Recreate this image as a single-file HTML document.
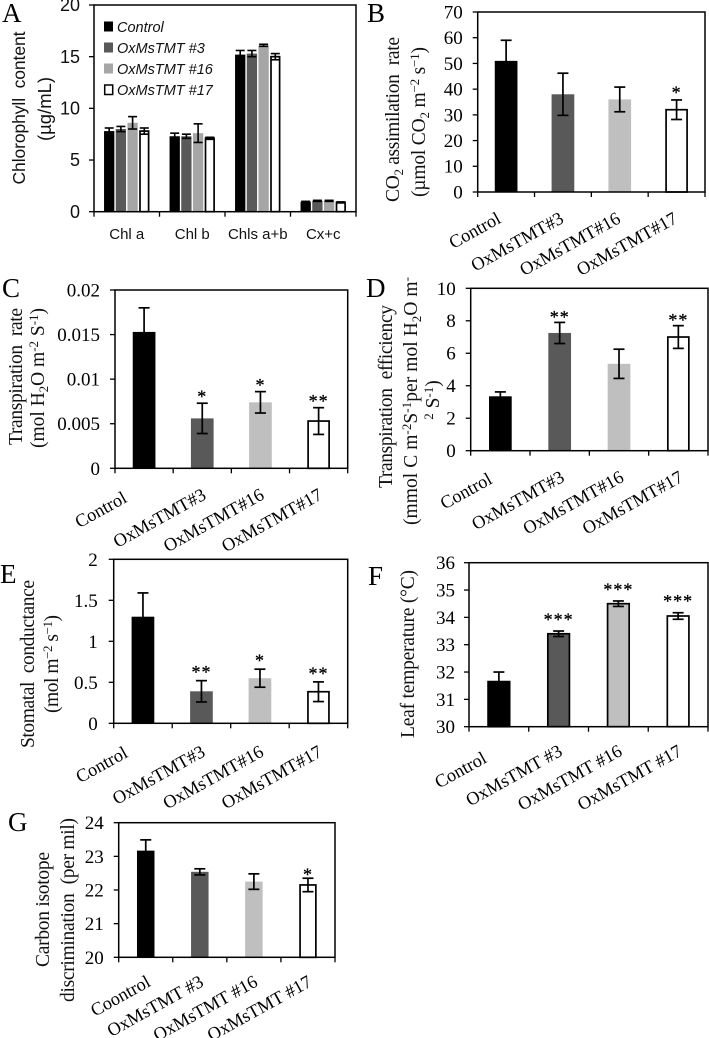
<!DOCTYPE html>
<html lang="en">
<head>
<meta charset="utf-8">
<title>Chlorophyll and gas exchange panels</title>
<style>
html,body{margin:0;padding:0;background:#fff;}
svg{display:block;filter:blur(0.3px);}
.serif{font-family:"Liberation Serif",serif;fill:#000;}
.sans{font-family:"Liberation Sans",sans-serif;fill:#111;}
.letter{font-family:"Liberation Serif",serif;font-size:27px;fill:#000;}
.title{font-family:"Liberation Serif",serif;font-size:19.5px;fill:#111;white-space:pre;}
.stitle{font-family:"Liberation Sans",sans-serif;font-size:17.5px;fill:#111;white-space:pre;}
</style>
</head>
<body>
<svg id="figure" xmlns="http://www.w3.org/2000/svg" width="709" height="1038" viewBox="0 0 709 1038">
<rect width="709" height="1038" fill="#fff"/>

<text class="letter" x="2" y="22">A</text>
<text class="letter" x="367" y="22">B</text>
<text class="letter" x="2" y="297">C</text>
<text class="letter" x="366" y="297">D</text>
<text class="letter" x="0" y="583">E</text>
<text class="letter" x="368" y="585">F</text>
<text class="letter" x="8" y="831">G</text>

<text class="stitle" text-anchor="middle" transform="translate(25,108) rotate(-90)" textLength="153">Chlorophyll  content</text>
<text class="stitle" style="font-size:18.5px" text-anchor="middle" transform="translate(51,109) rotate(-90)">(µg/mL)</text>

<text class="title" text-anchor="middle" transform="translate(399,119.5) rotate(-90)" textLength="165">CO<tspan font-size="13" dy="4">2</tspan><tspan dy="-4"> assimilation  rate</tspan></text>
<text class="title" text-anchor="middle" transform="translate(425,122) rotate(-90)" textLength="150">(µmol CO<tspan font-size="13" dy="4">2</tspan><tspan dy="-4"> m</tspan><tspan font-size="13" dy="-6">−2</tspan><tspan dy="6"> s</tspan><tspan font-size="13" dy="-6">−1</tspan><tspan dy="6">)</tspan></text>

<text class="title" text-anchor="middle" transform="translate(22,376.5) rotate(-90)" textLength="137">Transpiration  rate</text>
<text class="title" text-anchor="middle" transform="translate(44,378) rotate(-90)" textLength="140">(mol H<tspan font-size="13" dy="4">2</tspan><tspan dy="-4">O m</tspan><tspan font-size="13" dy="-6">-2</tspan><tspan dy="6"> S</tspan><tspan font-size="13" dy="-6">-1</tspan><tspan dy="6">)</tspan></text>

<text class="title" text-anchor="middle" transform="translate(392,396.5) rotate(-90)" textLength="183">Transpiration  efficiency</text>
<text class="title" text-anchor="middle" transform="translate(417,401) rotate(-90)" textLength="248">(mmol C m<tspan font-size="13" dy="-6">-2</tspan><tspan dy="6">S</tspan><tspan font-size="13" dy="-6">-1</tspan><tspan dy="6">per mol H</tspan><tspan font-size="13" dy="4">2</tspan><tspan dy="-4">O m</tspan><tspan font-size="13" dy="-6">-</tspan></text>
<text class="title" text-anchor="middle" transform="translate(439,400) rotate(-90)"><tspan font-size="13" dy="-6">2</tspan><tspan dy="6"> S</tspan><tspan font-size="13" dy="-6">-1</tspan><tspan dy="6">)</tspan></text>

<text class="title" text-anchor="middle" transform="translate(34,664) rotate(-90)" textLength="168">Stomatal  conductance</text>
<text class="title" text-anchor="middle" transform="translate(58,664) rotate(-90)" textLength="98">(mol m<tspan font-size="13" dy="-6">−2</tspan><tspan dy="6"> s</tspan><tspan font-size="13" dy="-6">−1</tspan><tspan dy="6">)</tspan></text>

<text class="title" text-anchor="middle" transform="translate(414,654) rotate(-90)" textLength="168">Leaf temperature (°C)</text>

<text class="title" text-anchor="middle" transform="translate(49,909.5) rotate(-90)" textLength="115">Carbon isotope</text>
<text class="title" text-anchor="middle" transform="translate(74,910) rotate(-90)" textLength="184">discrimination  (per mil)</text>

<g id="legend">
  <rect x="104" y="21.5" width="9" height="10" fill="#000"/>
  <text class="sans" font-style="italic" font-size="14.5" x="117" y="32">Control</text>
  <rect x="104" y="42.5" width="9" height="10" fill="#595959"/>
  <text class="sans" font-style="italic" font-size="14.5" x="117" y="53">OxMsTMT #3</text>
  <rect x="104" y="63.5" width="9" height="10" fill="#a6a6a6"/>
  <text class="sans" font-style="italic" font-size="14.5" x="117" y="74">OxMsTMT #16</text>
  <rect x="104.7" y="85" width="8" height="9.5" fill="#fff" stroke="#000" stroke-width="1.5"/>
  <text class="sans" font-style="italic" font-size="14.5" x="117" y="95">OxMsTMT #17</text>
</g>
<g id="charts"></g>
</svg>
<script>
// Panel A data
const aCategories = ['Chl a', 'Chl b', 'Chls a+b', 'Cx+c'];
const aTicks = ['0', '5', '10', '15', '20'];
const aControl = [7.8, 7.3, 15.2, 0.95];
const aLine3 = [8.0, 7.3, 15.3, 1.05];
const aLine16 = [8.6, 7.6, 16.1, 1.05];
const aLine17 = [7.8, 7.1, 15.0, 0.9];
const aControlErr = [0.3, 0.3, 0.4, 0.05];
const aLine3Err = [0.25, 0.2, 0.3, 0.05];
const aLine16Err = [0.6, 0.9, 0.1, 0.05];
const aLine17Err = [0.3, 0.1, 0.3, 0.05];

// Panel B data
const bCategories = ['Control', 'OxMsTMT#3', 'OxMsTMT#16', 'OxMsTMT#17'];
const bTicks = ['0', '10', '20', '30', '40', '50', '60', '70'];
const bValues = [51, 38, 36, 32];
const bErrors = [8, 8.2, 4.8, 3.8];
const bStars = ['', '', '', '*'];

// Panel C data
const cCategories = ['Control', 'OxMsTMT#3', 'OxMsTMT#16', 'OxMsTMT#17'];
const cTicks = ['0', '0.005', '0.01', '0.015', '0.02'];
const cValues = [0.0153, 0.0056, 0.0074, 0.0053];
const cErrors = [0.0027, 0.0017, 0.0012, 0.0015];
const cStars = ['', '*', '*', '**'];

// Panel D data
const dCategories = ['Control', 'OxMsTMT#3', 'OxMsTMT#16', 'OxMsTMT#17'];
const dTicks = ['0', '2', '4', '6', '8', '10'];
const dValues = [3.35, 7.25, 5.35, 7.0];
const dErrors = [0.27, 0.65, 0.9, 0.7];
const dStars = ['', '**', '', '**'];

// Panel E data
const eCategories = ['Control', 'OxMsTMT#3', 'OxMsTMT#16', 'OxMsTMT#17'];
const eTicks = ['0', '0.5', '1', '1.5', '2'];
const eValues = [1.3, 0.39, 0.55, 0.385];
const eErrors = [0.29, 0.13, 0.11, 0.12];
const eStars = ['', '**', '*', '**'];

// Panel F data
const fCategories = ['Control', 'OxMsTMT #3', 'OxMsTMT #16', 'OxMsTMT #17'];
const fTicks = ['30', '31', '32', '33', '34', '35', '36'];
const fValues = [31.65, 33.4, 34.5, 34.05];
const fErrors = [0.35, 0.1, 0.1, 0.12];
const fStars = ['', '***', '***', '***'];

// Panel G data
const gCategories = ['Coontrol', 'OxMsTMT #3', 'OxMsTMT #16', 'OxMsTMT #17'];
const gTicks = ['20', '21', '22', '23', '24'];
const gValues = [23.17, 22.54, 22.25, 22.15];
const gErrors = [0.32, 0.09, 0.23, 0.2];
const gStars = ['', '', '', '*'];

const NS = 'http://www.w3.org/2000/svg';
const root = document.getElementById('charts');
const barFills = ['#000000', '#595959', '#bfbfbf', '#ffffff'];
const aFills = ['#000000', '#595959', '#a6a6a6', '#ffffff'];

function make(tag, attrs, parent) {
  const el = document.createElementNS(NS, tag);
  for (const k in attrs) el.setAttribute(k, attrs[k]);
  parent.appendChild(el);
  return el;
}

function axisFns(p, ticks) {
  const lo = Number(ticks[0]);
  const hi = Number(ticks[ticks.length - 1]);
  return {
    y: v => p.base + (v - lo) / (hi - lo) * (p.top - p.base),
    band: (p.right - p.left) / p.count
  };
}

function drawFrame(g, p, ticks, ax) {
  const frame = make('rect', {x: p.left, y: p.top, width: p.right - p.left, height: p.base - p.top, fill: 'none', stroke: '#000', 'stroke-width': 1.5}, g);
  
  
  ticks.forEach(t => {
    const yy = ax.y(Number(t));
    const tk = make('line', {x1: p.left - 5, x2: p.left, y1: yy, y2: yy, stroke: '#000', 'stroke-width': 1.3}, g);
    
    
    const lb = make('text', {x: p.left - p.labelGap, y: yy + p.tickFont * 0.34, 'text-anchor': 'end', 'font-size': p.tickFont, class: p.font}, g);
    
    
    lb.textContent = t;
  });
  for (let i = 0; i <= p.count; i++) {
    const xx = p.left + i * ax.band;
    const tk = make('line', {x1: xx, x2: xx, y1: p.base, y2: p.base + 5, stroke: '#000', 'stroke-width': 1.3}, g);
    
    
  }
}

function drawError(g, cx, yHi, yLo, cap, sw) {
  const v = make('line', {x1: cx, x2: cx, y1: yHi, y2: yLo, stroke: '#000', 'stroke-width': sw}, g);
  
  
  const c1 = make('line', {x1: cx - cap / 2, x2: cx + cap / 2, y1: yHi, y2: yHi, stroke: '#000', 'stroke-width': sw}, g);
  
  
  const c2 = make('line', {x1: cx - cap / 2, x2: cx + cap / 2, y1: yLo, y2: yLo, stroke: '#000', 'stroke-width': sw}, g);
  
  
}

function drawBar(g, cx, w, yTop, base, fill, outline) {
  const sw = (fill === '#ffffff' || outline) ? 1.7 : 0;
  const attrs = {x: cx - w / 2 + sw / 2, y: yTop, width: w - sw, height: base - yTop, fill: fill};
  if (sw) { attrs.stroke = '#000'; attrs['stroke-width'] = sw; }
  const r = make('rect', attrs, g);
  
  
}

function drawPanel(p, cats, ticks, vals, errs, stars) {
  p.count = cats.length;
  const g = make('g', {}, root);
  
  
  const ax = axisFns(p, ticks);
  vals.forEach((v, i) => {
    const cx = p.left + (i + 0.5) * ax.band;
    drawBar(g, cx, p.barWidth, ax.y(v), p.base, barFills[i], p.outline);
  });
  drawFrame(g, p, ticks, ax);
  vals.forEach((v, i) => {
    const cx = p.left + (i + 0.5) * ax.band;
    const yHi = ax.y(v + errs[i]);
    drawError(g, cx, yHi, ax.y(v - errs[i]), p.cap, 1.7);
    if (stars[i]) {
      const s = make('text', {x: cx, y: yHi - p.starGap + 8.5, 'text-anchor': 'middle', 'font-size': 18, 'letter-spacing': 1, stroke: '#000', 'stroke-width': 0.3, class: 'serif'}, g);
      
      
      s.textContent = stars[i];
    }
    const cxLabel = cx + p.catDx + (i === 0 ? p.firstDx : 0);
    const yLabel = p.base + p.catDy + (i === 0 ? p.firstDy : 0);
    const lb = make('text', {x: cxLabel, y: yLabel, 'text-anchor': 'end', 'font-size': 18.3, class: 'serif', transform: 'rotate(-29 ' + cxLabel + ' ' + yLabel + ')'}, g);
    
    
    lb.textContent = cats[i];
  });
}

function drawPanelA() {
  const p = {left: 94, right: 356, top: 5, base: 211.7, labelGap: 14, tickFont: 18, font: 'sans', count: aCategories.length};
  const g = make('g', {}, root);
  
  
  const ax = axisFns(p, aTicks);
  const series = [aControl, aLine3, aLine16, aLine17];
  const errors = [aControlErr, aLine3Err, aLine16Err, aLine17Err];
  const step = 11.7;
  series.forEach((vals, s) => {
    vals.forEach((v, i) => {
      const cx = p.left + (i + 0.5) * ax.band + (s - 1.5) * step;
      drawBar(g, cx, 10.3, ax.y(v), p.base, aFills[s], false);
    });
  });
  drawFrame(g, p, aTicks, ax);
  series.forEach((vals, s) => {
    vals.forEach((v, i) => {
      const cx = p.left + (i + 0.5) * ax.band + (s - 1.5) * step;
      drawError(g, cx, ax.y(v + errors[s][i]), ax.y(v - errors[s][i]), 9, 1.6);
    });
  });
  aCategories.forEach((c, i) => {
    const lb = make('text', {x: p.left + (i + 0.5) * ax.band, y: 239, 'text-anchor': 'middle', 'font-size': 15, class: 'sans'}, g);
    
    
    lb.textContent = c;
  });
}

drawPanelA();
drawPanel({name: 'panel-b-chart', left: 477.7, right: 705, top: 12, base: 192, labelGap: 15, tickFont: 19, font: 'serif', barWidth: 22.7, cap: 11, starGap: 10, catDx: 2, catDy: 30, firstDx: -6, firstDy: 0}, bCategories, bTicks, bValues, bErrors, bStars);
drawPanel({name: 'panel-c-chart', left: 115, right: 347.7, top: 290, base: 468.3, labelGap: 15, tickFont: 19, font: 'serif', barWidth: 22.7, cap: 11, starGap: 9, catDx: 5, catDy: 30, firstDx: -21, firstDy: 3}, cCategories, cTicks, cValues, cErrors, cStars);
drawPanel({name: 'panel-d-chart', left: 470.7, right: 708, top: 288.3, base: 450.7, labelGap: 15, tickFont: 19, font: 'serif', barWidth: 22.7, cap: 11, starGap: 8, catDx: 6, catDy: 30, firstDx: -13, firstDy: 2}, dCategories, dTicks, dValues, dErrors, dStars);
drawPanel({name: 'panel-e-chart', left: 113.7, right: 347.7, top: 559.3, base: 723.3, labelGap: 16, tickFont: 19, font: 'serif', barWidth: 22.7, cap: 11, starGap: 11, catDx: 5, catDy: 32, firstDx: -19, firstDy: 1}, eCategories, eTicks, eValues, eErrors, eStars);
drawPanel({name: 'panel-f-chart', left: 469, right: 708, top: 562.7, base: 726.7, labelGap: 14, tickFont: 19, font: 'serif', barWidth: 23.3, cap: 11, starGap: 14, outline: true, catDx: 5, catDy: 28, firstDx: -16, firstDy: 7}, fCategories, fTicks, fValues, fErrors, fStars);
drawPanel({name: 'panel-g-chart', left: 118.7, right: 335, top: 822.7, base: 957.3, labelGap: 15, tickFont: 19, font: 'serif', barWidth: 17.5, cap: 11, starGap: 6, catDx: 5, catDy: 28, firstDx: 1, firstDy: 0}, gCategories, gTicks, gValues, gErrors, gStars);
</script>
</body>
</html>
